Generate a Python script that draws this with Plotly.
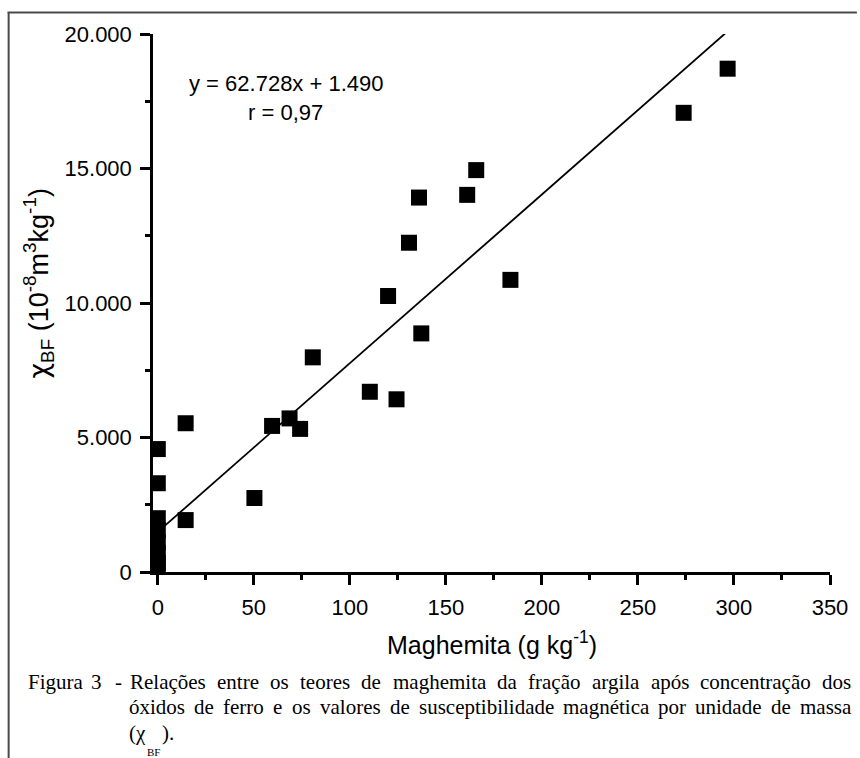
import plotly.graph_objects as go

# ---- data ----
maghemita = [0, 0, 0, 0, 0, 0, 0, 0,
             14.5, 14.5, 50.3, 59.5, 68.6, 74.1, 80.7, 110.4, 119.9, 124.3,
             130.8, 136.0, 137.2, 161.1, 165.8, 183.6, 273.8, 296.7]
chi_bf = [4570, 3300, 2000, 1550, 1100, 700, 350, 100,
          1930, 5530, 2750, 5430, 5710, 5320, 7980, 6700, 10260, 6420,
          12240, 13920, 8870, 14020, 14940, 10860, 17070, 18710]

fit_slope = 62.728
fit_intercept = 1490

x_tick_vals = [0, 50, 100, 150, 200, 250, 300, 350]
x_tick_text = ["0", "50", "100", "150", "200", "250", "300", "350"]
y_tick_vals = [0, 5000, 10000, 15000, 20000]
y_tick_text = ["0", "5.000", "10.000", "15.000", "20.000"]

equation_text = "y = 62.728x + 1.490"
r_text = "r = 0,97"
x_title = "Maghemita (g kg<sup>-1</sup>)"
y_title = ('<span style="font-family:DejaVu Sans">χ</span><sub>BF</sub> '
           '(10<sup>-8</sup>m<sup>3</sup>kg<sup>-1</sup>)')
caption_label = ["Figura", "3", "-"]
caption_line1 = "Relações entre os teores de maghemita da fração argila após concentração dos"
caption_line2 = "óxidos de ferro e os valores de susceptibilidade magnética por unidade de massa"
caption_line3 = ["(χ", "BF", ")."]

# ---- layout geometry (pixels) ----
W, H = 860, 758
L, R, T, B = 153, 27, 34, 186
PW, PH = W - L - R, H - T - B


def px(x):
    return (x - L) / PW


def py(y):
    return (H - B - y) / PH


# approximate Times/Liberation Serif advance widths (em) for justification
TIMES_W = {
    'a': .444, 'b': .5, 'c': .444, 'd': .5, 'e': .444, 'f': .333, 'g': .5, 'h': .5,
    'i': .278, 'j': .278, 'k': .5, 'l': .278, 'm': .778, 'n': .5, 'o': .5, 'p': .5,
    'q': .5, 'r': .333, 's': .389, 't': .278, 'u': .5, 'v': .5, 'w': .722, 'x': .5,
    'y': .5, 'z': .444, 'ç': .444, 'ã': .444, 'õ': .5, 'ó': .5, 'é': .444, 'R': .667,
}


def word_width(w, size):
    return sum(TIMES_W.get(c, .5) for c in w) * size


def justify(text, x0, x1, size):
    words = text.split()
    widths = [word_width(w, size) for w in words]
    gap = (x1 - x0 - sum(widths)) / (len(words) - 1)
    pos, x = [], x0
    for w, ww in zip(words, widths):
        pos.append((w, x))
        x += ww + gap
    return pos


fit_x = [0, max(maghemita)]
fit_y = [fit_slope * v + fit_intercept for v in fit_x]

fig = go.Figure()
fig.add_trace(go.Scatter(x=fit_x, y=fit_y, mode="lines",
                         line=dict(color="black", width=1.8),
                         showlegend=False, hoverinfo="skip"))
fig.add_trace(go.Scatter(x=maghemita, y=chi_bf, mode="markers",
                         marker=dict(symbol="square", size=16, color="black",
                                     line=dict(width=0)),
                         showlegend=False))

sans = "Liberation Sans, Arial, sans-serif"
serif = "Liberation Serif, Times New Roman, serif"
axis_font = dict(family=sans, size=22, color="black")

fig.update_xaxes(range=[-2.5, 350], tickvals=x_tick_vals, ticktext=x_tick_text,
                 showline=True, linecolor="black", linewidth=2.5,
                 ticks="outside", ticklen=10, tickwidth=2.5, tickcolor="black",
                 minor=dict(ticks="outside", ticklen=5, tickwidth=2.5,
                            tickcolor="black", dtick=25, tick0=0),
                 showgrid=False, zeroline=False, tickfont=axis_font,
                 ticklabelstandoff=4)
fig.update_yaxes(range=[0, 20000], tickvals=y_tick_vals, ticktext=y_tick_text,
                 showline=True, linecolor="black", linewidth=2.5,
                 ticks="outside", ticklen=10, tickwidth=2.5, tickcolor="black",
                 minor=dict(ticks="outside", ticklen=5, tickwidth=2.5,
                            tickcolor="black", dtick=2500, tick0=0),
                 showgrid=False, zeroline=False, tickfont=axis_font,
                 ticklabelstandoff=4)

CAP = 21
annotations = [
    dict(x=px(287), y=py(84), text=equation_text, font=dict(family=sans, size=22)),
    dict(x=px(286), y=py(112), text=r_text, font=dict(family=sans, size=22)),
    dict(x=px(494), y=py(643), text=x_title, font=dict(family=sans, size=25)),
    dict(x=px(38), y=py(284), text=y_title, textangle=-90, font=dict(family=sans, size=27)),
]
for w, x in zip(caption_label, [25, 89, 113]):
    annotations.append(dict(x=px(x), y=py(682), text=w, xanchor="left",
                            font=dict(family=serif, size=CAP)))
for w, x in justify(caption_line1, 128, 852, CAP):
    annotations.append(dict(x=px(x), y=py(682), text=w, xanchor="left",
                            font=dict(family=serif, size=CAP)))
for w, x in justify(caption_line2, 127, 852, CAP):
    annotations.append(dict(x=px(x), y=py(707), text=w, xanchor="left",
                            font=dict(family=serif, size=CAP)))
annotations.append(dict(x=px(127), y=py(733), text=caption_line3[0], xanchor="left",
                        font=dict(family=serif, size=CAP)))
annotations.append(dict(x=px(145), y=py(752), text=caption_line3[1], xanchor="left",
                        font=dict(family=serif, size=11)))
annotations.append(dict(x=px(160), y=py(733), text=caption_line3[2], xanchor="left",
                        font=dict(family=serif, size=CAP)))

for a in annotations:
    a.setdefault("xanchor", "center")
    a.setdefault("yanchor", "middle")
    a.update(xref="paper", yref="paper", showarrow=False)
    a["font"].setdefault("color", "black")

shapes = [
    dict(type="line", xref="paper", yref="paper", x0=px(7), x1=px(860), y0=py(12.5), y1=py(12.5),
         line=dict(color="#4a4a4a", width=2)),
    dict(type="line", xref="paper", yref="paper", x0=px(8), x1=px(8), y0=py(12), y1=py(758),
         line=dict(color="#4a4a4a", width=2)),
]

fig.update_layout(width=W, height=H, margin=dict(l=L, r=R, t=T, b=B),
                  paper_bgcolor="white", plot_bgcolor="white",
                  annotations=annotations, shapes=shapes, showlegend=False,
                  font=dict(family=sans, color="black"))

fig.write_html("out.html", config={"displayModeBar": False},
               post_script="document.body.style.margin='0';document.body.style.padding='0';")
